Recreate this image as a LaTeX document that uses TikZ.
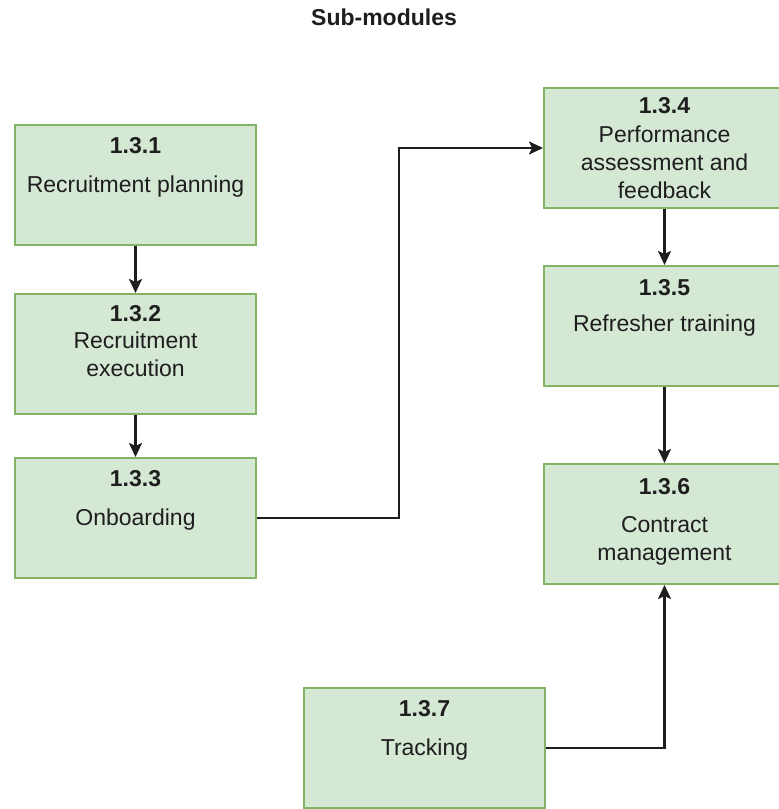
\documentclass[tikz,border=0pt]{standalone}
\usepackage{fontspec}
\setmainfont{Liberation Sans}
\usetikzlibrary{arrows.meta}
\definecolor{boxfill}{HTML}{D5E8D4}
\definecolor{boxline}{HTML}{82B366}
\definecolor{ink}{HTML}{1E1E1E}
\begin{document}
\begin{tikzpicture}[x=1pt,y=-1pt,
  module/.style={draw=boxline,fill=boxfill,line width=2pt,minimum width=241pt,
    minimum height=120pt,inner sep=0pt,anchor=north west},
  numtag/.style={font=\fontsize{23}{27}\selectfont\bfseries,text=ink,inner sep=0pt},
  caption/.style={font=\fontsize{23}{28}\selectfont,text=ink,align=center,inner sep=0pt},
  link/.style={draw=ink,line width=2.2pt,-{Stealth[length=14pt,width=13pt,inset=3pt]}}]
\useasboundingbox (0,0) rectangle (779,809);

% heading
\node[numtag] (title) at (384,17) {Sub-modules};

% module boxes
\node[module] (b1) at (14,124) {};
\node[module] (b2) at (14,293) {};
\node[module] (b3) at (14,457) {};
\node[module] (b4) at (543,87) {};
\node[module] (b5) at (543,265) {};
\node[module] (b6) at (543,463) {};
\node[module] (b7) at (303,687) {};

% numbers and names
\node[numtag]  (n1) at ([yshift=-22pt]b1.north) {1.3.1};
\node[caption] (t1) at ([yshift=-63pt]b1.north) {Recruitment planning};
\node[numtag]  (n2) at ([yshift=-21pt]b2.north) {1.3.2};
\node[caption] (t2) at ([yshift=-61pt]b2.north) {Recruitment\\execution};
\node[numtag]  (n3) at ([yshift=-22pt]b3.north) {1.3.3};
\node[caption] (t3) at ([yshift=-63pt]b3.north) {Onboarding};
\node[numtag]  (n4) at ([yshift=-19pt]b4.north) {1.3.4};
\node[caption] (t4) at ([yshift=-75pt]b4.north) {Performance\\assessment and\\feedback};
\node[numtag]  (n5) at ([yshift=-23pt]b5.north) {1.3.5};
\node[caption] (t5) at ([yshift=-61pt]b5.north) {Refresher training};
\node[numtag]  (n6) at ([yshift=-24pt]b6.north) {1.3.6};
\node[caption] (t6) at ([yshift=-78pt]b6.north) {Contract\\management};
\node[numtag]  (n7) at ([yshift=-22pt]b7.north) {1.3.7};
\node[caption] (t7) at ([yshift=-63pt]b7.north) {Tracking};

% connectors
\coordinate (bend) at (399,0);
\draw[link] (b1.south) -- (b2.north);
\draw[link] (b2.south) -- (b3.north);
\draw[link] (b3.east) -- (b3.east -| bend) |- (b4.west);
\draw[link] (b4.south) -- (b5.north);
\draw[link] (b5.south) -- (b6.north);
\draw[link] (b7.east) -| (b6.south);
\end{tikzpicture}
\end{document}
